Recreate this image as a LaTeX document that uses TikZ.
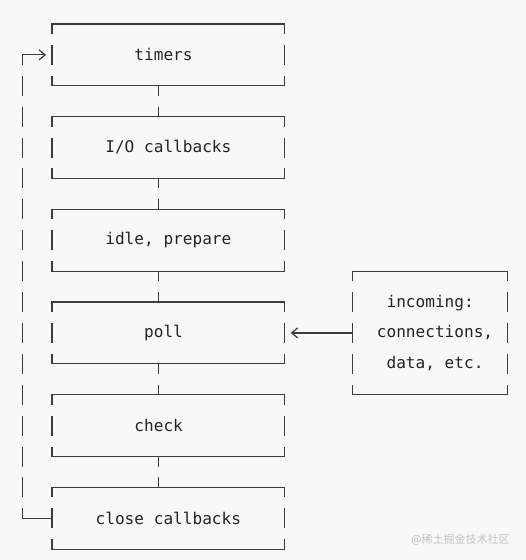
\documentclass[tikz,border=0pt]{standalone}
\usepackage{fontspec}
\setmonofont{DejaVu Sans Mono}
\newfontfamily\cjkfont{Noto Sans CJK SC}
\usetikzlibrary{arrows.meta}

\definecolor{fond}{RGB}{248,248,248}
\definecolor{trait}{RGB}{60,60,60}
\definecolor{texte}{RGB}{35,35,35}
\definecolor{marque}{RGB}{195,195,195}

\begin{document}
\begin{tikzpicture}[x=9.7pt,y=-30.9pt]

%cadre
\fill[fond] (-2.36,-0.777) rectangle (51.87,17.35);
\useasboundingbox (-2.36,-0.777) rectangle (51.87,17.35);

\tikzset{
    box/.style={minimum width=232.8pt, minimum height=61.8pt, inner sep=0pt, outer sep=0pt,
        font=\ttfamily\fontsize{16.1}{30.9}\selectfont, text=texte},
    hline/.style={line width=1.2pt, draw=trait, line cap=rect},
    vside/.style={line width=1.2pt, draw=trait, dash pattern=on 20pt off 10.9pt, dash phase=10pt},
    link/.style={line width=1.2pt, draw=trait, dash pattern=on 10pt off 10.9pt},
    tip/.style={-{Straight Barb[length=6pt,width=10pt]}, shorten >=6pt}
}

%les phases
\node[box] (timers) at (15,1) {timers\phantom{x}};
\node[box] (io) at (15,4) {I/O callbacks};
\node[box] (idle) at (15,7) {idle, prepare};
\node[box] (poll) at (15,10) {poll\phantom{x}};
\node[box] (check) at (15,13) {check\phantom{xx}};
\node[box] (close) at (15,16) {close callbacks};
\node[box, minimum width=155.2pt, minimum height=123.6pt, align=left] (incoming) at (42,10)
    {\phantom{xx}incoming:\\\phantom{x}connections,\\\phantom{xx}data, etc.};

%bords
\draw[hline] (timers.north west) -- (timers.north east) (timers.south west) -- (timers.south east);
\draw[vside] (timers.north west) -- (timers.south west) (timers.north east) -- (timers.south east);
\draw[hline] (io.north west) -- (io.north east) (io.south west) -- (io.south east);
\draw[vside] (io.north west) -- (io.south west) (io.north east) -- (io.south east);
\draw[hline] (idle.north west) -- (idle.north east) (idle.south west) -- (idle.south east);
\draw[vside] (idle.north west) -- (idle.south west) (idle.north east) -- (idle.south east);
\draw[hline] (poll.north west) -- (poll.north east) (poll.south west) -- (poll.south east);
\draw[vside] (poll.north west) -- (poll.south west) (poll.north east) -- (poll.south east);
\draw[hline] (check.north west) -- (check.north east) (check.south west) -- (check.south east);
\draw[vside] (check.north west) -- (check.south west) (check.north east) -- (check.south east);
\draw[hline] (close.north west) -- (close.north east) (close.south west) -- (close.south east);
\draw[vside] (close.north west) -- (close.south west) (close.north east) -- (close.south east);
\draw[hline] (incoming.north west) -- (incoming.north east) (incoming.south west) -- (incoming.south east);
\draw[vside] (incoming.north west) -- (incoming.south west) (incoming.north east) -- (incoming.south east);

%liaisons
\draw[link] ([xshift=-9.7pt]timers.south) -- ([xshift=-9.7pt]io.north);
\draw[link] ([xshift=-9.7pt]io.south) -- ([xshift=-9.7pt]idle.north);
\draw[link] ([xshift=-9.7pt]idle.south) -- ([xshift=-9.7pt]poll.north);
\draw[link] ([xshift=-9.7pt]poll.south) -- ([xshift=-9.7pt]check.north);
\draw[link] ([xshift=-9.7pt]check.south) -- ([xshift=-9.7pt]close.north);

%boucle
\coordinate (looptop) at (0,1);
\coordinate (loopbot) at (0,16);
\draw[hline] (close.west) -- (loopbot);
\draw[vside] (looptop) -- (loopbot);
\draw[hline, tip] (looptop) -- (timers.west);

\draw[hline, tip] (incoming.west) -- (poll.east);

\node[anchor=east, font=\cjkfont\fontsize{11}{13}\selectfont, text=marque] (mark) at (50.55,16.7) {@稀土掘金技术社区};

\end{tikzpicture}
\end{document}
